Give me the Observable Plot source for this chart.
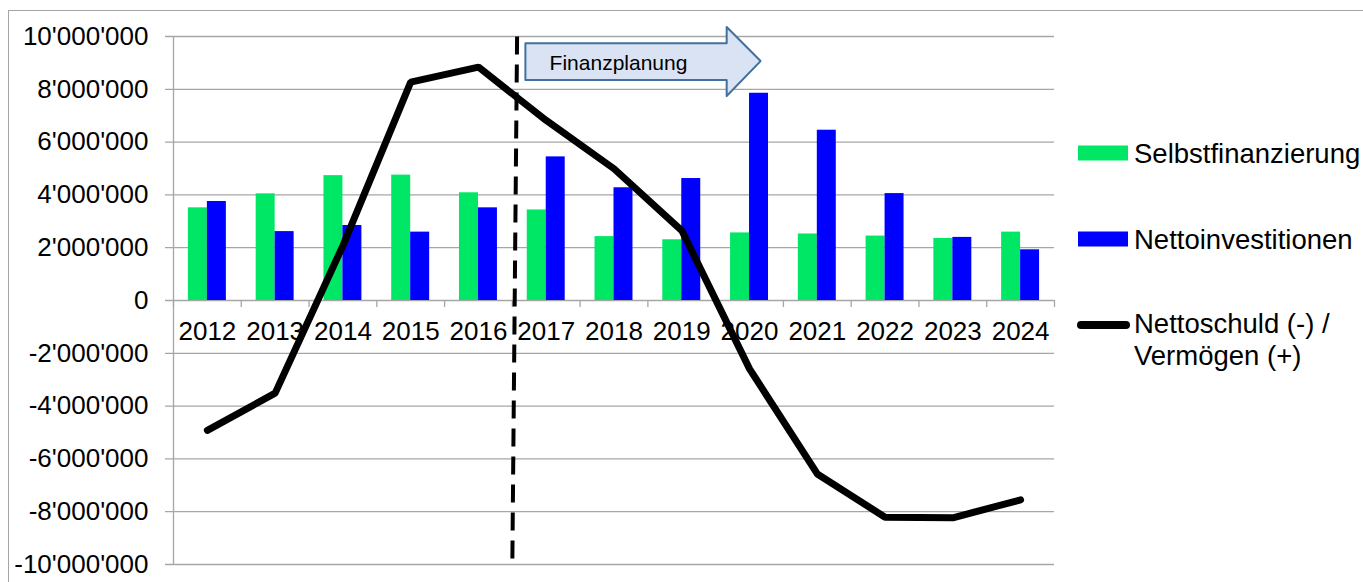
<!DOCTYPE html>
<html>
<head>
<meta charset="utf-8">
<script src="https://cdn.jsdelivr.net/npm/d3@7"></script>
<script src="https://cdn.jsdelivr.net/npm/@observablehq/plot@0.6"></script>
<style>
  html, body { margin: 0; padding: 0; background: #fff; overflow: hidden; }
  #wrap { position: relative; width: 1363px; height: 582px; font-family: "Liberation Sans", Arial, sans-serif; }
  #frame { position: absolute; left: 8px; top: 10px; width: 1400px; height: 620px; border: 1px solid #a6a6a6; pointer-events: none; }
  #chart { position: absolute; left: 0; top: 0; }
  #legend { position: absolute; left: 0; top: 0; pointer-events: none; }
</style>
</head>
<body>
<div id="wrap">
  <div id="frame"></div>
  <div id="chart"></div>
  <svg id="legend" width="1363" height="582"></svg>
</div>
<script>
// ---- data ----
const years = [2012, 2013, 2014, 2015, 2016, 2017, 2018, 2019, 2020, 2021, 2022, 2023, 2024];
const selbstfinanzierung = [3510000, 4040000, 4730000, 4750000, 4080000, 3430000, 2420000, 2300000, 2560000, 2520000, 2440000, 2350000, 2590000];
const nettoinvestitionen = [3750000, 2610000, 2840000, 2590000, 3510000, 5440000, 4270000, 4620000, 7850000, 6450000, 4050000, 2390000, 1920000];
const nettoschuld = [-4920000, -3510000, 2080000, 8270000, 8840000, 6820000, 4990000, 2650000, -2590000, -6570000, -8210000, -8230000, -7550000];
const yTicks = [-10000000, -8000000, -6000000, -4000000, -2000000, 0, 2000000, 4000000, 6000000, 8000000, 10000000];
const seriesNames = ["Selbstfinanzierung", "Nettoinvestitionen", "Nettoschuld (-) /\nVermögen (+)"];
const planStart = 2016.5;           // boundary between actuals and planning
const planLabel = "Finanzplanung";

const colGreen = "#00E765";
const colBlue = "#0000FF";
const colGrid = "#a6a6a6";

const rows = years.map((y, i) => ({year: y, s: selbstfinanzierung[i], n: nettoinvestitionen[i], d: nettoschuld[i]}));
const boundaries = d3.range(years.length + 1).map(i => years[0] - 0.5 + i);
const barW = 0.28;

const fmt = d => (d < 0 ? "-" : "") + d3.format(",")(Math.abs(d)).replace(/,/g, "'");

// block arrow "Finanzplanung" (in data space)
const arrow = [
  {x: 2016.70, y1: 8330000, y2: 9730000},
  {x: 2019.67, y1: 8330000, y2: 9730000},
  {x: 2019.67, y1: 7730000, y2: 10340000},
  {x: 2020.17, y1: 9050000, y2: 9050000}
];

const chart = Plot.plot({
  width: 1363,
  height: 582,
  marginLeft: 173,
  marginRight: 309,
  marginTop: 36,
  marginBottom: 18,
  style: {fontFamily: "'Liberation Sans', Arial, sans-serif", background: "transparent", color: "#000"},
  x: {domain: [years[0] - 0.5, years[years.length - 1] + 0.5], axis: null},
  y: {domain: [-10000000, 10000000], axis: null},
  marks: [
    Plot.ruleY(yTicks, {stroke: colGrid, strokeWidth: 1.3, insetLeft: -8}),
    Plot.ruleX([years[0] - 0.5], {stroke: colGrid, strokeWidth: 1.3}),
    Plot.ruleX(boundaries, {x: d => d, y1: 0, y2: 0, insetBottom: -7, stroke: colGrid, strokeWidth: 1.3}),
    Plot.rectY(rows, {x1: d => d.year - barW, x2: d => d.year, y1: 0, y2: d => d.s, fill: colGreen}),
    Plot.rectY(rows, {x1: d => d.year, x2: d => d.year + barW, y1: 0, y2: d => d.n, fill: colBlue}),
    Plot.axisY(yTicks, {tickFormat: fmt, tickSize: 0, tickPadding: 25, fontSize: 26, label: null, anchor: "left"}),
    Plot.text(rows, {x: "year", y: 0, dy: 31, text: d => String(d.year), fontSize: 26, fill: "#000"}),
    Plot.link([{x1: planStart + 0.07, y1: 10000000, x2: planStart, y2: -9900000}], {
      x1: "x1", y1: "y1", x2: "x2", y2: "y2", stroke: "#000", strokeWidth: 4, strokeDasharray: "18,10"
    }),
    Plot.areaY(arrow, {x: "x", y1: "y1", y2: "y2", fill: "#dae3f3", stroke: "#41719c", strokeWidth: 2, curve: "linear"}),
    Plot.text([planLabel], {x: 2017.05, y: 8980000, text: d => d, textAnchor: "start", fontSize: 21, fill: "#000"}),
    Plot.line(rows, {x: "year", y: "d", stroke: "#000", strokeWidth: 7, strokeLinecap: "round", strokeLinejoin: "miter"})
  ]
});
document.getElementById("chart").appendChild(chart);

// ---- legend ----
const lg = d3.select("#legend");
const lx = 1078, tx = 1134, fs = 27.5;
const items = [
  {type: "rect", color: colGreen, y: 153, name: seriesNames[0]},
  {type: "rect", color: colBlue, y: 239, name: seriesNames[1]},
  {type: "line", color: "#000", y: 325, name: seriesNames[2]}
];
items.forEach(it => {
  if (it.type === "rect") {
    lg.append("rect").attr("x", lx).attr("y", it.y - 7.5).attr("width", 50).attr("height", 15).attr("fill", it.color);
  } else {
    lg.append("line").attr("x1", lx + 3).attr("x2", lx + 48).attr("y1", it.y).attr("y2", it.y)
      .attr("stroke", it.color).attr("stroke-width", 8).attr("stroke-linecap", "round");
  }
  const lines = it.name.split("\n");
  const t = lg.append("text").attr("font-family", "'Liberation Sans', Arial, sans-serif").attr("font-size", fs).attr("fill", "#000");
  lines.forEach((l, k) => {
    t.append("tspan").attr("x", tx).attr("y", (lines.length > 1 ? it.y - 2 : it.y) + k * 32).attr("dominant-baseline", "central").text(l);
  });
});
</script>
</body>
</html>
